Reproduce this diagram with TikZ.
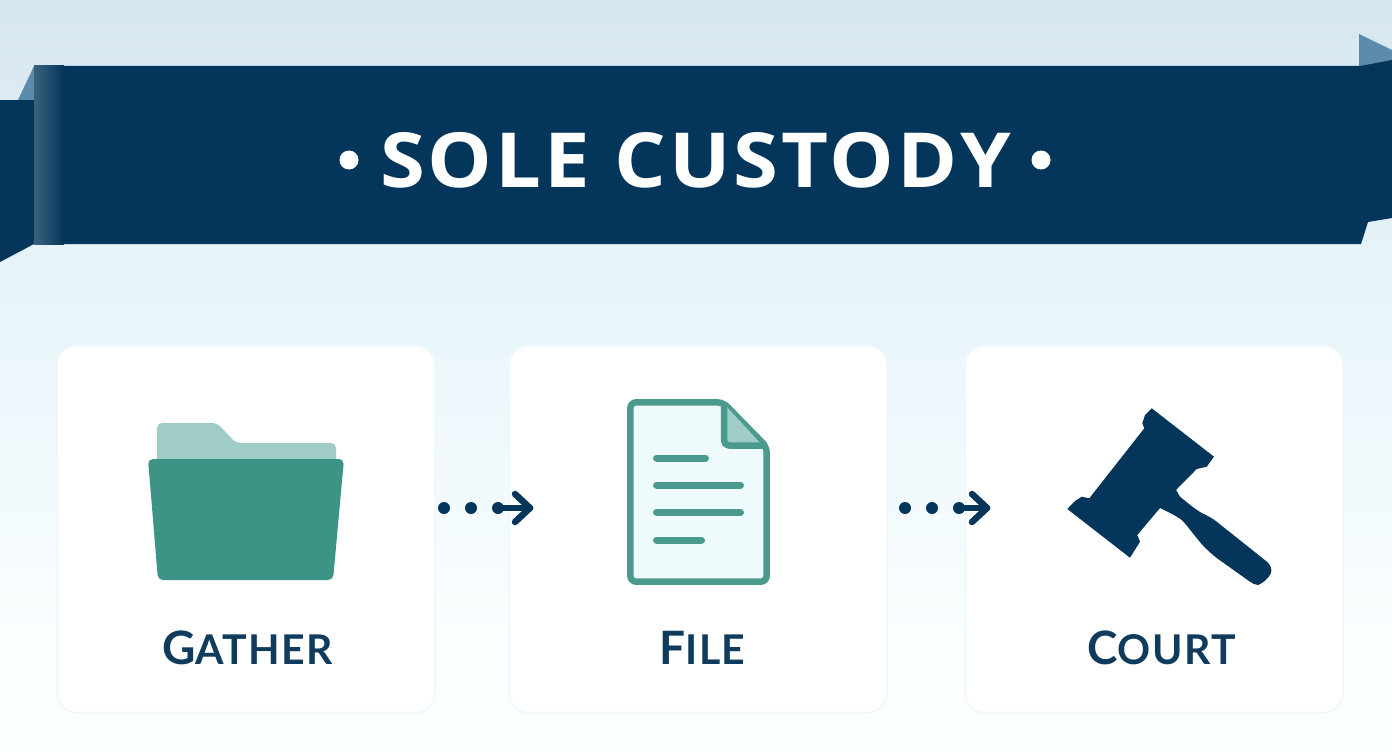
\documentclass[tikz,border=0pt]{standalone}
\usepackage{fontspec}
\setmainfont{Open Sans}
\newfontfamily\labfont{Lato}
\definecolor{navy}{HTML}{03365A}
\definecolor{labnavy}{HTML}{0F3B5C}
\definecolor{teal1}{HTML}{3D9486}
\definecolor{teal2}{HTML}{9FCCC6}
\definecolor{teal3}{HTML}{4A9A8E}
\definecolor{bgtop}{HTML}{D6E6EF}
\definecolor{bgmid}{HTML}{E6F3F9}
\definecolor{bglow}{HTML}{FAFEFF}
\definecolor{foldb}{HTML}{5B8CAB}
\definecolor{docfill}{HTML}{EFFAFD}
\definecolor{cardedge}{HTML}{EEF8FB}
\tikzset{
 card/.style={fill=white,draw=cardedge,line width=1.5pt,rounded corners=20pt,minimum width=378pt,minimum height=367pt,inner sep=0pt},
 lab/.style={anchor=base,text=labnavy,font=\labfont\bfseries\addfontfeature{LetterSpace=3.5}\fontsize{46}{46}\selectfont},
 dotn/.style={circle,fill=navy,minimum size=12pt,inner sep=0pt},
 arr/.style={draw=navy,line width=6.5pt,line cap=round,line join=round},
 title/.style={anchor=base,text=white,font=\bfseries\addfontfeature{LetterSpace=4,FakeStretch=1.07}\fontsize{76}{76}\selectfont},
 tdot/.style={circle,fill=white,minimum size=19pt,inner sep=0pt},
 docline/.style={draw=teal3,line width=7pt,line cap=round},
}
\newcommand{\smc}{\fontsize{41}{41}\selectfont}
\begin{document}
\begin{tikzpicture}[x=1pt,y=-1pt]
\useasboundingbox (0,0) rectangle (1392,752);
\shade[top color=bgtop,bottom color=bgmid] (0,0) rectangle (1392,250);
\shade[top color=bgmid,bottom color=bglow] (0,250) rectangle (1392,640);
\fill[bglow] (0,640) rectangle (1392,752);
% back ribbon folds
\fill[foldb] (18,100) -- (34,66) -- (34,100) -- cycle;
\fill[foldb] (1359,34) -- (1392,50) -- (1392,66) -- (1359,66) -- cycle;
% ribbon
\fill[navy] (0,100) -- (34,100) -- (34,244) -- (0,262) -- cycle;
\fill[navy] (34,66) -- (1360,66) -- (1392,60) -- (1392,218) -- (1368,222) -- (1361,244) -- (34,244) -- cycle;
\shade[left color=navy!78!white,right color=navy] (34,66) rectangle (64,244);
% cards
\node[card] (c1) at (246,529) {};
\node[card] (c2) at (698,529) {};
\node[card] (c3) at (1154,529) {};
% title
\node[title] (t) at (695.5,187.7) {SOLE CUSTODY};
\node[tdot] (d1) at (349,160) {};
\node[tdot] (d2) at (1041,160) {};
% folder
\fill[teal2,rounded corners=5pt] (157,465) -- (157,423) -- (217,423) -- (236,443) -- (336,443) -- (336,465) -- cycle;
\fill[teal1,rounded corners=5pt] (148,459) -- (344,459) -- (333,580) -- (158,580) -- cycle;
% connector 1
\node[dotn] (a1) at (444,508) {};
\node[dotn] (a2) at (471,508) {};
\node[dotn] (a3) at (498,508) {};
\coordinate (a4) at (530,508);
\draw[arr] (a3.center) -- (a4);
\draw[arr] (515,494) -- (a4) -- (515,522);
% connector 2
\node[dotn] (b1) at (905,508) {};
\node[dotn] (b2) at (932,508) {};
\node[dotn] (b3) at (959,508) {};
\coordinate (b4) at (987,508);
\draw[arr] (b3.center) -- (b4);
\draw[arr] (972,494) -- (b4) -- (972,522);
% document
\draw[teal3,fill=docfill,line width=6.5pt,line join=round,rounded corners=6pt] (630.3,402.3) -- (723,402.3) -- (766.7,447) -- (766.7,581.7) -- (630.3,581.7) -- cycle;
\fill[teal2] (726,406) -- (762,445) -- (726,445) -- cycle;
\draw[teal3,line width=6.5pt,line join=round,rounded corners=5pt] (724,403) -- (724,445.5) -- (766.7,445.5);
\draw[docline] (656.5,458) -- (705.5,458);
\draw[docline] (656.5,485) -- (740.5,485);
\draw[docline] (656.5,512) -- (740.5,512);
\draw[docline] (656.5,540) -- (701.5,540);
% gavel
\fill[navy] (1151.7,408.3) -- (1214,456.7) -- (1206.7,466.7) -- (1196.7,469) -- (1176,490) -- (1180,496.7)
 .. controls (1190,505) and (1195,509) .. (1201.7,513)
 .. controls (1208,516) and (1212,518) .. (1216.7,521.7)
 -- (1266,561) .. controls (1271,565) and (1272,569) .. (1271,573)
 .. controls (1268,579) and (1263,583) .. (1258,585)
 .. controls (1255,585) and (1252,583) .. (1250,581.7)
 -- (1216.7,558)
 .. controls (1208,551) and (1202,545) .. (1196.7,538)
 .. controls (1190,530) and (1186,524) .. (1181.7,520)
 .. controls (1175,515) and (1168,512) .. (1160,508)
 -- (1137.3,535) -- (1140,541.7) -- (1130,557.7) -- (1067.3,509) -- (1075,501) -- (1081.7,496.7) -- (1089.3,498.3)
 -- (1144.3,428.3) -- (1142.3,423.3) -- (1145,415) -- cycle;
% labels
\node[lab] (l1) at (247.5,664) {G\smc ATHER};
\node[lab] (l2) at (702.5,664) {F\smc ILE};
\node[lab] (l3) at (1161.5,664) {C\smc OURT};
\end{tikzpicture}
\end{document}
